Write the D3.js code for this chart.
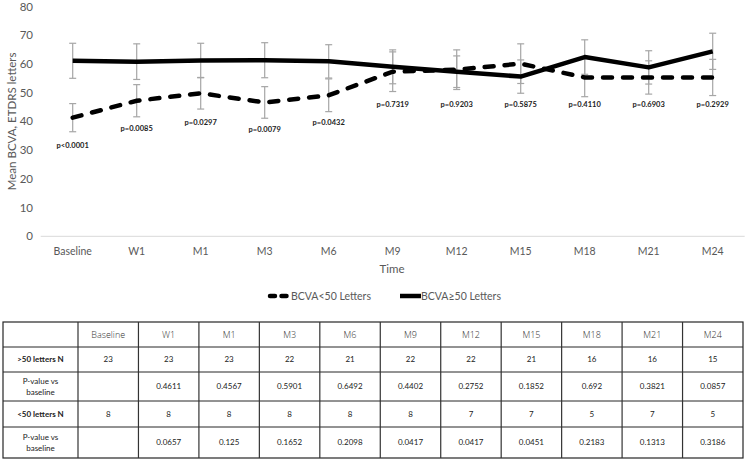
<!DOCTYPE html>
<html>
<head>
<meta charset="utf-8">
<script src="https://cdn.jsdelivr.net/npm/d3@7/dist/d3.min.js"></script>
<style>
  html, body { margin: 0; padding: 0; background: #fff; }
  svg { display: block; }
</style>
</head>
<body>
<svg id="chart" width="746" height="460"></svg>
<script>
// ---------------- data ----------------
const categories = ["Baseline", "W1", "M1", "M3", "M6", "M9", "M12", "M15", "M18", "M21", "M24"];
const yTicks = [0, 10, 20, 30, 40, 50, 60, 70, 80];

const seriesAbove = [61.1, 60.8, 61.2, 61.3, 60.9, 59.0, 57.3, 55.6, 62.4, 58.8, 64.4];   // BCVA≥50 Letters
const errAbove    = [6.1, 6.2, 6.0, 6.1, 5.8, 5.9, 5.5, 5.8, 6.0, 5.8, 6.3];
const seriesBelow = [41.3, 47.2, 49.8, 46.6, 49.1, 57.3, 58.0, 60.1, 55.3, 55.3, 55.3];   // BCVA<50 Letters
const errBelow    = [4.9, 5.6, 5.5, 5.5, 5.7, 6.9, 6.9, 6.9, 6.7, 5.8, 6.3];

const pLabels = ["p<0.0001", "p=0.0085", "p=0.0297", "p=0.0079", "p=0.0432", "p=0.7319",
                 "p=0.9203", "p=0.5875", "p=0.4110", "p=0.6903", "p=0.2929"];
const pLabelAt = [31.5, 37.6, 39.6, 37.3, 39.8, 45.8, 45.8, 45.8, 45.8, 45.8, 45.8]; // in y units

const legendNames = ["BCVA<50 Letters", "BCVA\u226550 Letters"];

const tableRowLabels = [">50 letters N", "P-value vs\nbaseline", "<50 letters N", "P-value vs\nbaseline"];
const nAbove = ["23", "23", "23", "22", "21", "22", "22", "21", "16", "16", "15"];
const pAbove = ["", "0.4611", "0.4567", "0.5901", "0.6492", "0.4402", "0.2752", "0.1852", "0.692", "0.3821", "0.0857"];
const nBelow = ["8", "8", "8", "8", "8", "8", "7", "7", "5", "7", "5"];
const pBelow = ["", "0.0657", "0.125", "0.1652", "0.2098", "0.0417", "0.0417", "0.0451", "0.2183", "0.1313", "0.3186"];

// ---------------- chart ----------------
const svg = d3.select("#chart");
const axisColor = "#595959";
const font = "Lato, 'Open Sans', sans-serif";

const x = d3.scalePoint().domain(categories).range([40.7, 744.7]).padding(0.5);
const y = d3.scaleLinear().domain([0, 80]).range([236.3, 6.5]);

// y tick labels
svg.append("g").selectAll("text").data(yTicks).join("text")
  .attr("x", 33).attr("y", d => y(d)).attr("dy", "0.35em")
  .attr("text-anchor", "end")
  .attr("font-family", font).attr("font-size", 11.5).attr("fill", axisColor)
  .text(d => d);

// x axis line
svg.append("line")
  .attr("x1", 40.7).attr("x2", 744.7).attr("y1", y(0)).attr("y2", y(0))
  .attr("stroke", "#d9d9d9").attr("stroke-width", 1);

// x tick labels
svg.append("g").selectAll("text").data(categories).join("text")
  .attr("x", d => x(d)).attr("y", 251).attr("dy", "0.35em")
  .attr("text-anchor", "middle")
  .attr("font-family", font).attr("font-size", 10.5).attr("fill", axisColor)
  .text(d => d);

// axis titles
svg.append("text")
  .attr("x", 392).attr("y", 268.5).attr("dy", "0.35em")
  .attr("text-anchor", "middle")
  .attr("font-family", font).attr("font-size", 11.5).attr("fill", axisColor)
  .text("Time");

svg.append("text")
  .attr("transform", `translate(12,${y(40)}) rotate(-90)`)
  .attr("dy", "0.35em")
  .attr("text-anchor", "middle")
  .attr("font-family", font).attr("font-size", 11.5).attr("fill", axisColor)
  .text("Mean BCVA, ETDRS letters");

// error bars
function errorBars(values, errs) {
  const g = svg.append("g").attr("stroke", "#a6a6a6").attr("stroke-width", 1.2);
  values.forEach((v, i) => {
    const cx = x(categories[i]);
    const top = y(v + errs[i]), bot = y(v - errs[i]);
    g.append("line").attr("x1", cx).attr("x2", cx).attr("y1", top).attr("y2", bot);
    g.append("line").attr("x1", cx - 3.5).attr("x2", cx + 3.5).attr("y1", top).attr("y2", top);
    g.append("line").attr("x1", cx - 3.5).attr("x2", cx + 3.5).attr("y1", bot).attr("y2", bot);
  });
}
errorBars(seriesAbove, errAbove);
errorBars(seriesBelow, errBelow);

const line = d3.line().x((d, i) => x(categories[i])).y(d => y(d));

svg.append("path").datum(seriesAbove)
  .attr("d", line).attr("fill", "none")
  .attr("stroke", "#000").attr("stroke-width", 4.5)
  .attr("stroke-linejoin", "round");

svg.append("path").datum(seriesBelow)
  .attr("d", line).attr("fill", "none")
  .attr("stroke", "#000").attr("stroke-width", 4.5)
  .attr("stroke-linecap", "round")
  .attr("stroke-dasharray", "9,11");

// p-value labels
svg.append("g").selectAll("text").data(pLabels).join("text")
  .attr("x", (d, i) => x(categories[i]))
  .attr("y", (d, i) => y(pLabelAt[i])).attr("dy", "0.35em")
  .attr("text-anchor", "middle")
  .attr("font-family", font).attr("font-weight", 700)
  .attr("font-size", 7.5).attr("fill", "#222")
  .text(d => d);

// legend
const lg = svg.append("g").attr("transform", "translate(0,296)");
lg.append("line").attr("x1", 270).attr("x2", 289).attr("y1", 0).attr("y2", 0)
  .attr("stroke", "#000").attr("stroke-width", 4.5)
  .attr("stroke-linecap", "round").attr("stroke-dasharray", "5,6.5");
lg.append("text").attr("x", 291).attr("y", 0).attr("dy", "0.35em")
  .attr("font-family", font).attr("font-size", 10.5).attr("fill", axisColor)
  .text(legendNames[0]);
lg.append("line").attr("x1", 400).attr("x2", 421).attr("y1", 0).attr("y2", 0)
  .attr("stroke", "#000").attr("stroke-width", 4.5);
lg.append("text").attr("x", 421).attr("y", 0).attr("dy", "0.35em")
  .attr("font-family", font).attr("font-size", 10.5).attr("fill", axisColor)
  .text(legendNames[1]);

// ---------------- table ----------------
const tLeft = 3, tLabelRight = 78, tRight = 743;
const rowEdges = [322, 347, 372, 401, 427, 458];
const colX = d3.scaleBand().domain(categories).range([tLabelRight, tRight]);
const tg = svg.append("g");
const rows = [nAbove, pAbove, nBelow, pBelow];

// grid
tg.append("rect").attr("x", tLeft).attr("y", rowEdges[0])
  .attr("width", tRight - tLeft).attr("height", rowEdges[5] - rowEdges[0])
  .attr("fill", "none").attr("stroke", "#262626").attr("stroke-width", 1.2);
rowEdges.slice(1, -1).forEach(r => {
  tg.append("line").attr("x1", tLeft).attr("x2", tRight).attr("y1", r).attr("y2", r)
    .attr("stroke", "#262626").attr("stroke-width", 1);
});
categories.forEach(c => {
  const xx = colX(c);
  tg.append("line").attr("x1", xx).attr("x2", xx).attr("y1", rowEdges[0]).attr("y2", rowEdges[5])
    .attr("stroke", "#333").attr("stroke-width", 1.2);
});

// header
tg.selectAll("text.h").data(categories).join("text").attr("class", "h")
  .attr("x", d => colX(d) + colX.bandwidth() / 2)
  .attr("y", (rowEdges[0] + rowEdges[1]) / 2).attr("dy", "0.35em")
  .attr("text-anchor", "middle")
  .attr("font-family", "'Open Sans', sans-serif").attr("font-weight", 300)
  .attr("font-size", 9).attr("fill", "#333")
  .text(d => d);

// row labels and cells
rows.forEach((vals, ri) => {
  const cy = (rowEdges[ri + 1] + rowEdges[ri + 2]) / 2;
  const lab = tableRowLabels[ri].split("\n");
  const isBold = lab.length === 1;
  lab.forEach((t, li) => {
    tg.append("text")
      .attr("x", (tLeft + tLabelRight) / 2)
      .attr("y", cy + (li - (lab.length - 1) / 2) * 11).attr("dy", "0.35em")
      .attr("text-anchor", "middle")
      .attr("font-family", font).attr("font-weight", isBold ? 700 : 400)
      .attr("font-size", 8).attr("fill", "#222")
      .text(t);
  });
  tg.append("g").selectAll("text").data(vals).join("text")
    .attr("x", (d, i) => colX(categories[i]) + colX.bandwidth() / 2)
    .attr("y", cy).attr("dy", "0.35em")
    .attr("text-anchor", "middle")
    .attr("font-family", font).attr("font-size", 8).attr("fill", "#222")
    .text(d => d);
});
</script>
</body>
</html>
